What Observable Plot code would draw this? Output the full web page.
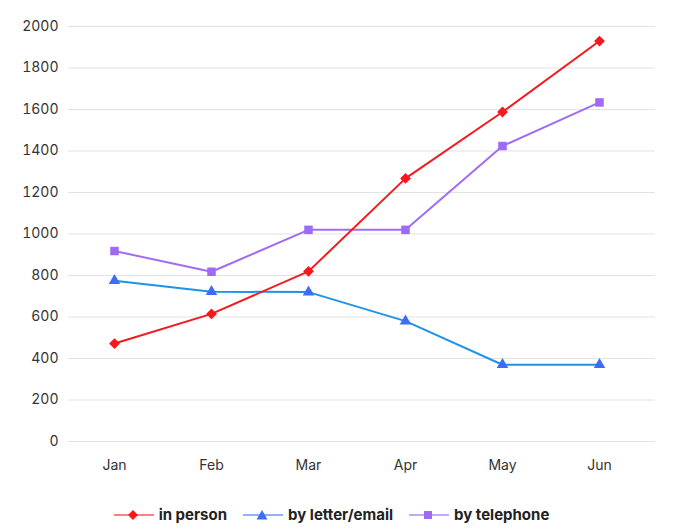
<!DOCTYPE html>
<html>
<head>
<meta charset="utf-8">
<script src="https://cdn.jsdelivr.net/npm/d3@7"></script>
<script src="https://cdn.jsdelivr.net/npm/@observablehq/plot@0.6"></script>
<style>
  html, body { margin: 0; padding: 0; background: #fff; }
  body { width: 682px; height: 529px; font-family: Inter, "Noto Sans", sans-serif; }
  #legend { display: flex; justify-content: center; align-items: center; margin-top: 15px; padding-right: 19px;
            font-family: Inter, sans-serif; font-weight: 700; font-size: 15px; color: #222; }
  .item { display: flex; align-items: center; margin: 0 8px; }
  .item svg { margin-right: 5px; }
</style>
</head>
<body>
<div id="chart"></div>
<div id="legend"></div>
<script>
const months = ["Jan", "Feb", "Mar", "Apr", "May", "Jun"];
const inPerson = [472, 615, 820, 1268, 1588, 1930];
const byLetter = [775, 722, 720, 580, 370, 370];
const byTelephone = [918, 818, 1020, 1020, 1424, 1634];
const yTicks = [0, 200, 400, 600, 800, 1000, 1200, 1400, 1600, 1800, 2000];
const seriesNames = ["in person", "by letter/email", "by telephone"];
const lineColors = ["#f6181c", "#1f93e6", "#a06cf6"];
const markColors = ["#f6181c", "#3e6df5", "#9e6af6"];
const legendLineColors = ["#ff8080", "#93aefb", "#c7a7fa"];

const rows = (vals, s) => vals.map((v, i) => ({month: months[i], value: v, series: s}));
const dPerson = rows(inPerson, seriesNames[0]);
const dLetter = rows(byLetter, seriesNames[1]);
const dPhone = rows(byTelephone, seriesNames[2]);

const chart = Plot.plot({
  width: 682,
  height: 490,
  marginLeft: 68,
  marginRight: 27,
  marginTop: 26,
  marginBottom: 49,
  style: {fontFamily: "Inter, sans-serif", fontSize: "14px", color: "#333", background: "#fff"},
  x: {type: "point", domain: months, range: [112.5, 601], padding: 0, label: null},
  y: {domain: [0, 2000], ticks: yTicks, label: null},
  marks: [
    Plot.ruleY(yTicks, {stroke: "#e2e2e2", strokeWidth: 1}),
    Plot.axisY({ticks: yTicks, tickSize: 0, tickPadding: 10, tickFormat: "d", label: null, fill: "#333", fontSize: 14}),
    Plot.axisX({tickSize: 0, tickPadding: 19, label: null, fill: "#333", fontSize: 14}),
    Plot.line(dLetter, {x: "month", y: "value", stroke: lineColors[1], strokeWidth: 2}),
    Plot.line(dPhone, {x: "month", y: "value", stroke: lineColors[2], strokeWidth: 2}),
    Plot.line(dPerson, {x: "month", y: "value", stroke: lineColors[0], strokeWidth: 2}),
    Plot.dot(dLetter, {x: "month", y: "value", symbol: "triangle", r: 4.3, fill: markColors[1]}),
    Plot.dot(dPhone, {x: "month", y: "value", symbol: "square", r: 4.8, fill: markColors[2]}),
    Plot.dot(dPerson, {x: "month", y: "value", symbol: "square", r: 4.3, rotate: 45, fill: markColors[0]})
  ]
});
document.getElementById("chart").append(chart);

const symbols = ["diamond", "triangle", "square"];
const legend = document.getElementById("legend");
seriesNames.forEach((name, i) => {
  const item = document.createElement("div");
  item.className = "item";
  let mark;
  if (symbols[i] === "diamond") mark = `<rect x="15.5" y="2.5" width="7" height="7" transform="rotate(45 19 6)" fill="${markColors[i]}"/>`;
  else if (symbols[i] === "triangle") mark = `<path d="M19 1 L24.5 10.5 L13.5 10.5 Z" fill="${markColors[i]}"/>`;
  else mark = `<rect x="15" y="2" width="8" height="8" fill="${markColors[i]}"/>`;
  item.innerHTML = `<svg width="40" height="12"><line x1="0" x2="40" y1="6" y2="6" stroke="${legendLineColors[i]}" stroke-width="2"/>${mark}</svg><span>${name}</span>`;
  legend.append(item);
});
</script>
</body>
</html>
